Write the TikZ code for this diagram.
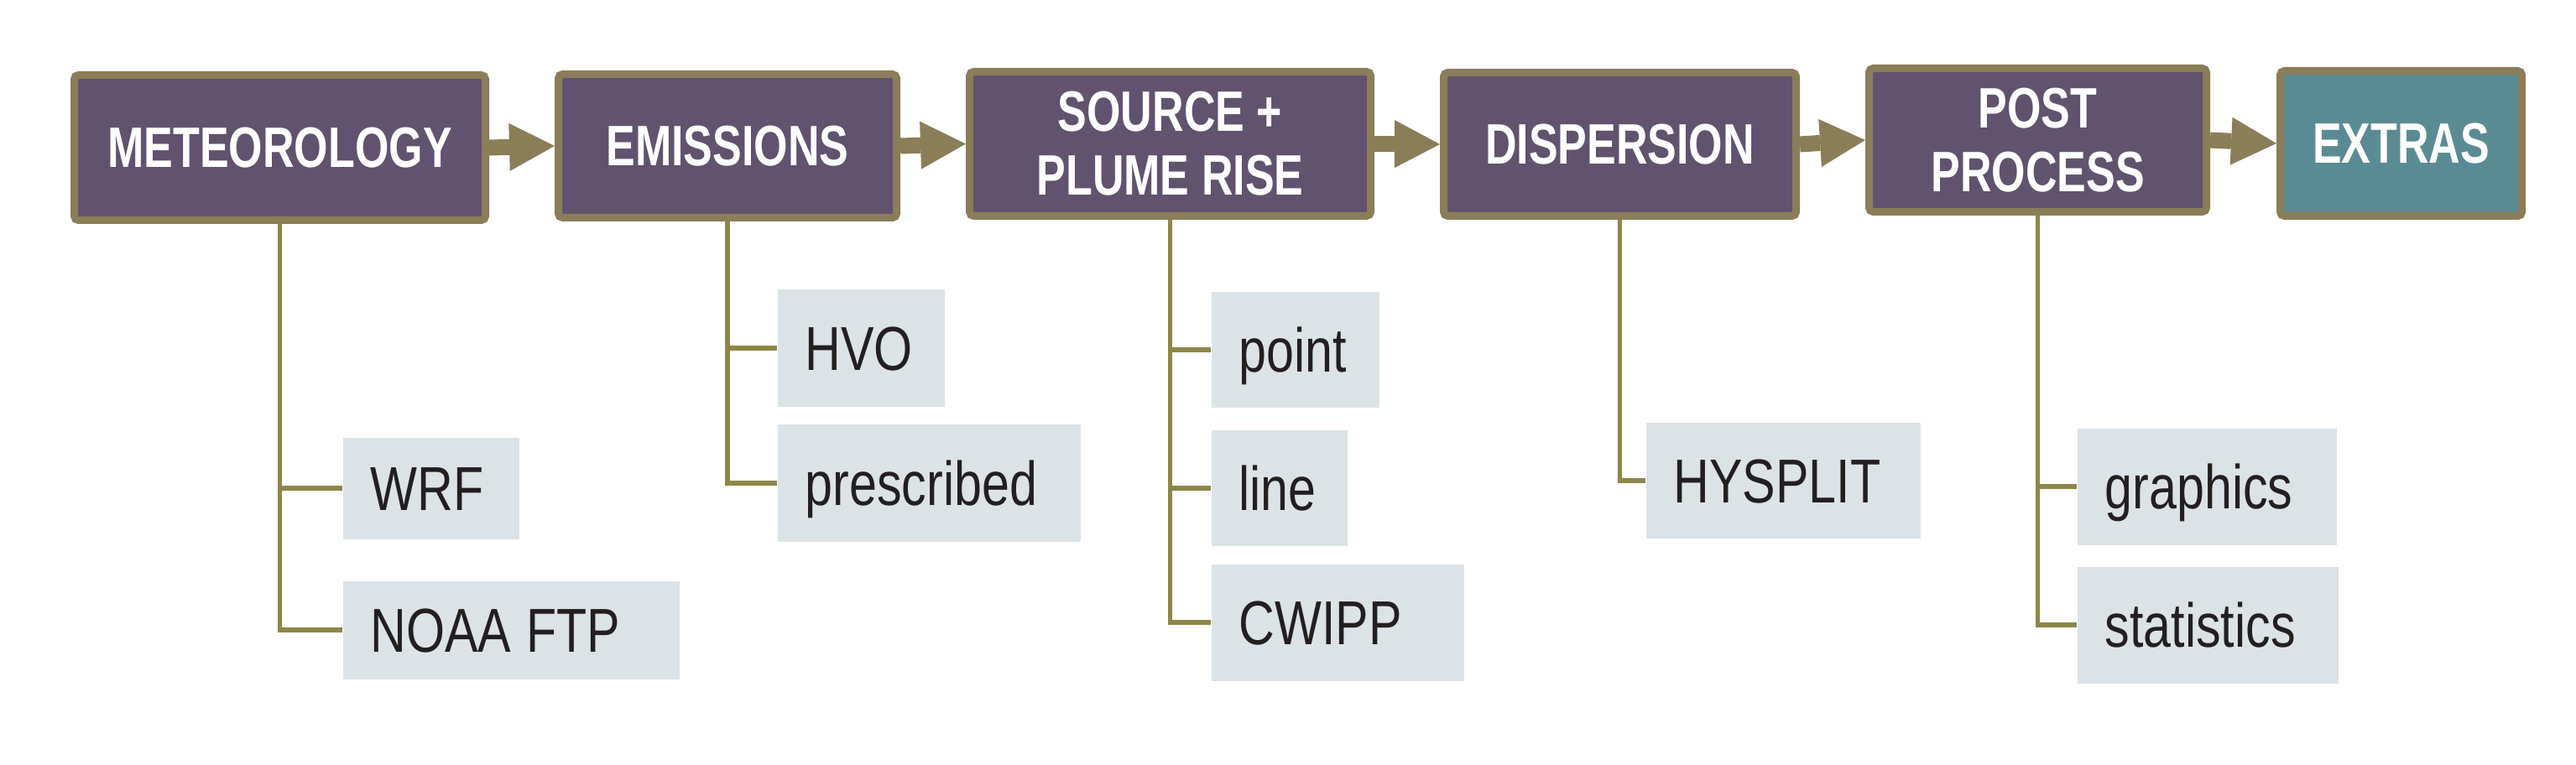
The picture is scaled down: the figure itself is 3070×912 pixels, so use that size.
\documentclass[tikz,border=0pt]{standalone}
\usepackage{fontspec}
\setmainfont{Liberation Sans}
\newfontfamily\headfont[FakeStretch=0.765]{Liberation Sans}
\newfontfamily\subfont[FakeStretch=0.8]{Liberation Sans}
\usetikzlibrary{arrows.meta,backgrounds}
\definecolor{mpurple}{RGB}{97,82,111}
\definecolor{mtan}{RGB}{139,125,88}
\definecolor{mline}{RGB}{142,134,72}
\definecolor{mteal}{RGB}{90,139,148}
\definecolor{msub}{RGB}{220,227,230}
\definecolor{mtext}{RGB}{35,31,32}
\begin{document}
\begin{tikzpicture}[x=0.3pt,y=-0.3pt,
  mainbox/.style={draw=mtan, line width=2.7pt, fill=mpurple, rounded corners=1.5pt,
    text=white, font=\headfont\bfseries\fontsize{20.4}{22.8}\selectfont, align=center, inner sep=0pt},
  subbox/.style={fill=msub, anchor=north west, inner xsep=9.9pt, inner ysep=0pt,
    text=mtext, font=\subfont\fontsize{22.2}{26}\selectfont, align=left,
    text height=15.9pt, text depth=0pt},
  conn/.style={draw=mline, line width=1.7pt},
  flow/.style={draw=mtan, line width=5.7pt, -{Triangle[length=16.2pt,width=17.1pt,line width=0pt]}}
]
\useasboundingbox (0,0) rectangle (3070,912);

% main boxes
\node[mainbox, minimum width=147pt, minimum height=51.9pt] (M) at (333.5,176) {METEOROLOGY};
\node[mainbox, minimum width=120.9pt, minimum height=51.3pt] (E) at (867,174) {EMISSIONS};
\node[mainbox, minimum width=143.4pt, minimum height=51.6pt] (S) at (1394.5,171.5) {SOURCE +\\PLUME RISE};
\node[mainbox, minimum width=126pt, minimum height=51.3pt] (D) at (1930.5,172) {DISPERSION};
\node[mainbox, minimum width=120.6pt, minimum height=51.3pt] (P) at (2428.5,167) {POST\\PROCESS};
\node[mainbox, fill=mteal, minimum width=86.4pt, minimum height=51.9pt] (X) at (2861.5,171) {EXTRAS};

% sub boxes
\node[subbox, text width=43.2pt, minimum height=36.3pt] (wrf) at (408,521) {WRF};
\node[subbox, text width=100.5pt, minimum height=35.1pt] (noaa) at (408,692) {NOAA\kern0.24em FTP};
\node[subbox, text width=39.9pt, minimum height=42pt] (hvo) at (926,344) {HVO};
\node[subbox, text width=88.5pt, minimum height=42pt] (presc) at (926,505) {prescribed};
\node[subbox, text width=40.2pt, minimum height=41.4pt] (point) at (1443,347) {point};
\node[subbox, text width=28.8pt, minimum height=41.4pt] (line) at (1443,512) {line};
\node[subbox, text width=70.5pt, minimum height=41.7pt] (cwipp) at (1443,672) {CWIPP};
\node[subbox, text width=78.3pt, minimum height=41.4pt] (hysplit) at (1961,503) {HYSPLIT};
\node[subbox, text width=72.9pt, minimum height=41.7pt] (graph) at (2475,510) {graphics};
\node[subbox, text width=73.5pt, minimum height=41.7pt] (stats) at (2475,675) {statistics};

\begin{scope}[on background layer]
% flow arrows
\draw[flow] (M.east) -- (E.west);
\draw[flow] (E.east) -- (S.west);
\draw[flow] (S.east) -- (D.west);
\draw[flow] (D.east) -- (P.west);
\draw[flow] (P.east) -- (X.west);
% tree connectors
\draw[conn] (M.south) |- (wrf.west);
\draw[conn] (M.south) |- (noaa.west);
\draw[conn] (E.south) |- (hvo.west);
\draw[conn] (E.south) |- (presc.west);
\draw[conn] (S.south) |- (point.west);
\draw[conn] (S.south) |- (line.west);
\draw[conn] (S.south) |- (cwipp.west);
\draw[conn] (D.south) |- (hysplit.west);
\draw[conn] (P.south) |- (graph.west);
\draw[conn] (P.south) |- (stats.west);
\end{scope}
\end{tikzpicture}
\end{document}
